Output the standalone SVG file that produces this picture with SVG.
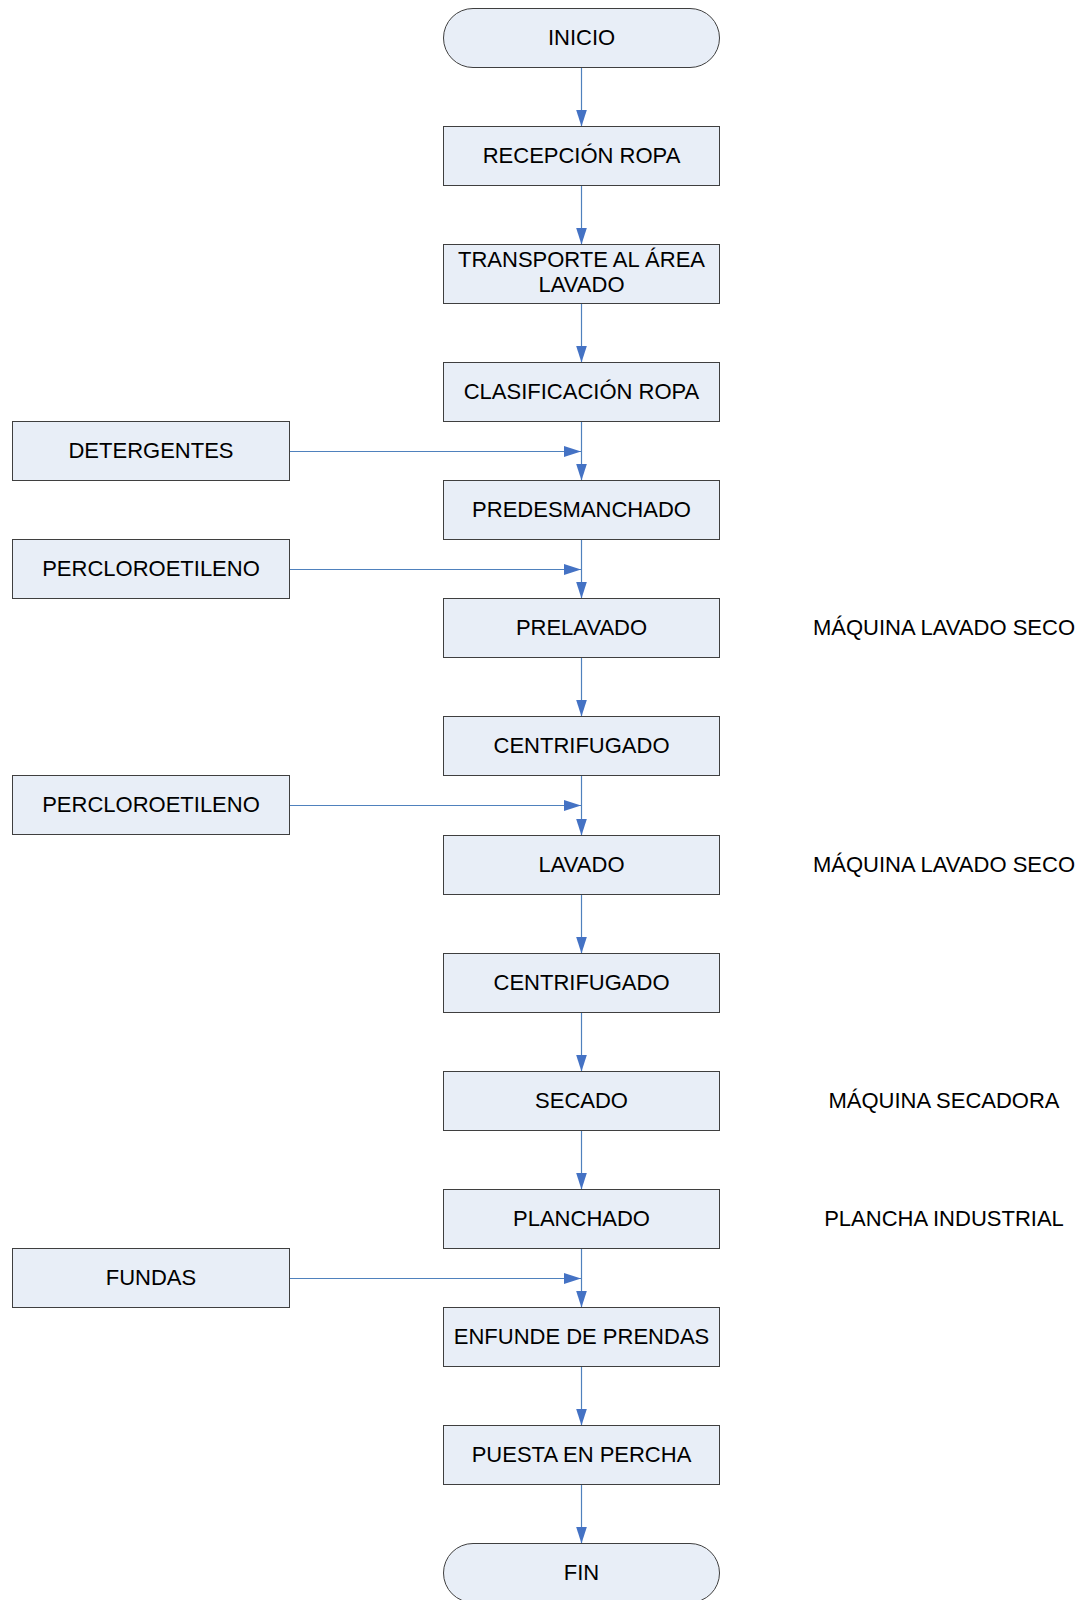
<svg xmlns="http://www.w3.org/2000/svg" width="1083" height="1600" viewBox="0 0 1083 1600">
<style>
.box{fill:#E8EEF7;stroke:#3F3F3F;stroke-width:1}
.t{font-family:"Liberation Sans",Arial,sans-serif;font-size:22px;fill:#000;text-anchor:middle}
.c{stroke:#4F81BD;stroke-width:1.2;fill:none;marker-end:url(#ah)}
</style>
<defs>
<marker id="ah" markerUnits="userSpaceOnUse" markerWidth="17" markerHeight="11" refX="17" refY="5.5" orient="auto">
<path d="M0,0 L17,5.5 L0,11 z" fill="#4472C4"/>
</marker>
</defs>
<rect width="1083" height="1600" fill="#fff"/>
<g id="connectors">
<line class="c" x1="581.5" y1="67.5" x2="581.5" y2="126.5"/>
<line class="c" x1="581.5" y1="185.5" x2="581.5" y2="244.5"/>
<line class="c" x1="581.5" y1="303.5" x2="581.5" y2="362.5"/>
<line class="c" x1="581.5" y1="421.5" x2="581.5" y2="480.5"/>
<line class="c" x1="581.5" y1="539.5" x2="581.5" y2="598.5"/>
<line class="c" x1="581.5" y1="657.5" x2="581.5" y2="716.5"/>
<line class="c" x1="581.5" y1="775.5" x2="581.5" y2="835.5"/>
<line class="c" x1="581.5" y1="894.5" x2="581.5" y2="953.5"/>
<line class="c" x1="581.5" y1="1012.5" x2="581.5" y2="1071.5"/>
<line class="c" x1="581.5" y1="1130.5" x2="581.5" y2="1189.5"/>
<line class="c" x1="581.5" y1="1248.5" x2="581.5" y2="1307.5"/>
<line class="c" x1="581.5" y1="1366.5" x2="581.5" y2="1425.5"/>
<line class="c" x1="581.5" y1="1484.5" x2="581.5" y2="1543.5"/>
<line class="c" x1="289.5" y1="451.5" x2="581" y2="451.5"/>
<line class="c" x1="289.5" y1="569.5" x2="581" y2="569.5"/>
<line class="c" x1="289.5" y1="805.5" x2="581" y2="805.5"/>
<line class="c" x1="289.5" y1="1278.5" x2="581" y2="1278.5"/>
</g>
<g id="inicio"><rect class="box" x="443.5" y="8.5" width="276" height="59" rx="29.5" ry="29.5"/><text class="t" x="581.5" y="44.5">INICIO</text></g>
<g id="recepcion"><rect class="box" x="443.5" y="126.5" width="276" height="59"/><text class="t" x="581.5" y="162.5">RECEPCIÓN ROPA</text></g>
<g id="transporte"><rect class="box" x="443.5" y="244.5" width="276" height="59"/><text class="t" x="581.5" y="267">TRANSPORTE AL ÁREA</text><text class="t" x="581.5" y="291.5">LAVADO</text></g>
<g id="clasificacion"><rect class="box" x="443.5" y="362.5" width="276" height="59"/><text class="t" x="581.5" y="398.5">CLASIFICACIÓN ROPA</text></g>
<g id="predesmanchado"><rect class="box" x="443.5" y="480.5" width="276" height="59"/><text class="t" x="581.5" y="516.5">PREDESMANCHADO</text></g>
<g id="prelavado"><rect class="box" x="443.5" y="598.5" width="276" height="59"/><text class="t" x="581.5" y="634.5">PRELAVADO</text></g>
<g id="centrifugado1"><rect class="box" x="443.5" y="716.5" width="276" height="59"/><text class="t" x="581.5" y="752.5">CENTRIFUGADO</text></g>
<g id="lavado"><rect class="box" x="443.5" y="835.5" width="276" height="59"/><text class="t" x="581.5" y="871.5">LAVADO</text></g>
<g id="centrifugado2"><rect class="box" x="443.5" y="953.5" width="276" height="59"/><text class="t" x="581.5" y="989.5">CENTRIFUGADO</text></g>
<g id="secado"><rect class="box" x="443.5" y="1071.5" width="276" height="59"/><text class="t" x="581.5" y="1107.5">SECADO</text></g>
<g id="planchado"><rect class="box" x="443.5" y="1189.5" width="276" height="59"/><text class="t" x="581.5" y="1225.5">PLANCHADO</text></g>
<g id="enfunde"><rect class="box" x="443.5" y="1307.5" width="276" height="59"/><text class="t" x="581.5" y="1343.5">ENFUNDE DE PRENDAS</text></g>
<g id="percha"><rect class="box" x="443.5" y="1425.5" width="276" height="59"/><text class="t" x="581.5" y="1461.5">PUESTA EN PERCHA</text></g>
<g id="fin"><rect class="box" x="443.5" y="1543.5" width="276" height="59" rx="29.5" ry="29.5"/><text class="t" x="581.5" y="1579.5">FIN</text></g>
<g id="detergentes"><rect class="box" x="12.5" y="421.5" width="277" height="59"/><text class="t" x="151" y="457.5">DETERGENTES</text></g>
<g id="percloro1"><rect class="box" x="12.5" y="539.5" width="277" height="59"/><text class="t" x="151" y="575.5">PERCLOROETILENO</text></g>
<g id="percloro2"><rect class="box" x="12.5" y="775.5" width="277" height="59"/><text class="t" x="151" y="811.5">PERCLOROETILENO</text></g>
<g id="fundas"><rect class="box" x="12.5" y="1248.5" width="277" height="59"/><text class="t" x="151" y="1284.5">FUNDAS</text></g>
<g id="labels">
<text class="t" x="944" y="634.5">MÁQUINA LAVADO SECO</text>
<text class="t" x="944" y="871.5">MÁQUINA LAVADO SECO</text>
<text class="t" x="944" y="1107.5">MÁQUINA SECADORA</text>
<text class="t" x="944" y="1225.5">PLANCHA INDUSTRIAL</text>
</g>
</svg>
